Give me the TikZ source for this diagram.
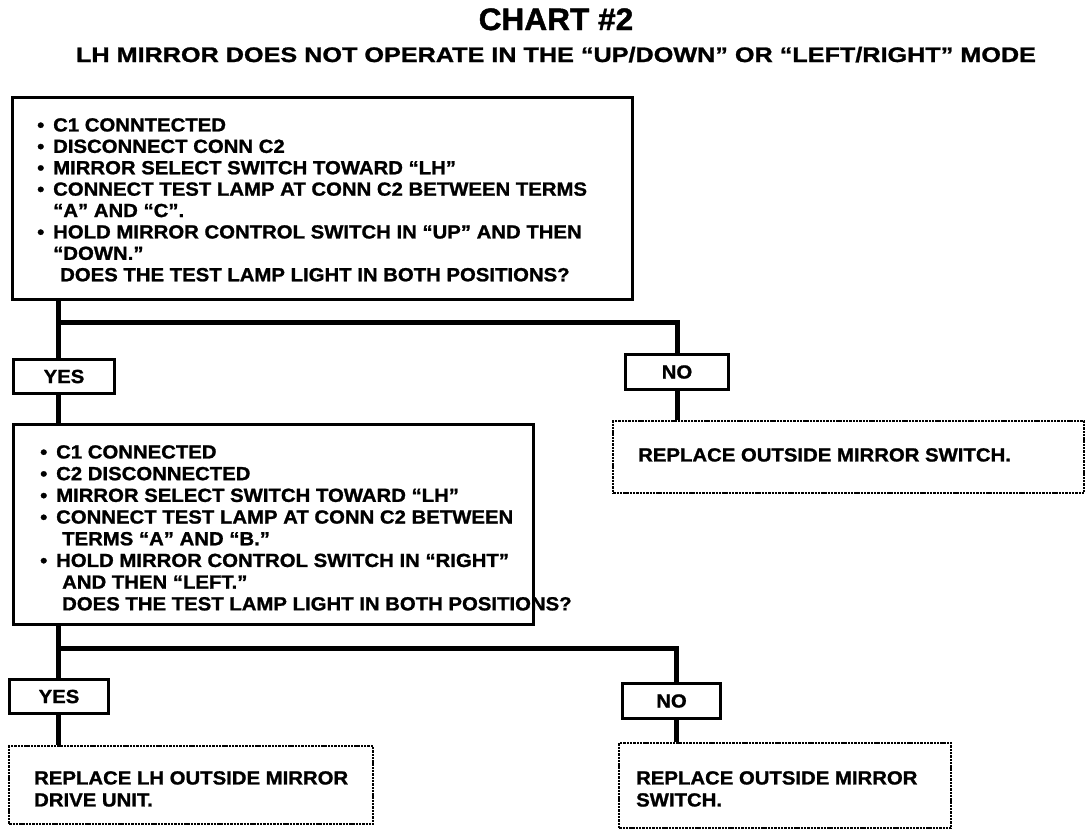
\documentclass[tikz,border=0pt]{standalone}
\usepackage{fontspec}
\setmainfont{Liberation Sans}[FakeStretch=1.07, BoldFeatures={FakeBold=1.2}]
\newfontfamily\titlef{Liberation Sans}[FakeStretch=1.02, BoldFeatures={FakeBold=1.5}]
\newfontfamily\subf{Liberation Sans}[FakeStretch=1.2, BoldFeatures={FakeBold=1.2}]
\newcommand\bul{\makebox[16pt][l]{•}}
\newcommand\ind[1]{\hspace*{#1}}
\begin{document}
\begin{tikzpicture}[x=1pt,y=-1pt,
  mainbox/.style={draw=black, line width=3pt, anchor=north west, inner sep=0pt},
  ynbox/.style={draw=black, line width=3pt, anchor=north west, inner sep=0pt,
     font=\fontsize{19}{21.4}\selectfont\bfseries},
  repbox/.style={draw=black, line width=2.4pt, dash pattern=on 2.4pt off 0.9pt, anchor=north west, inner sep=0pt},
  txt/.style={anchor=north west, inner sep=0pt, align=left,
     font=\fontsize{19}{21.4}\selectfont\bfseries},
  conn/.style={draw=black, line width=5pt}]
\useasboundingbox (0,0) rectangle (1088,836);

% titles
\node[anchor=base, inner sep=0pt, font=\titlef\fontsize{31}{33}\selectfont\bfseries] (title) at (556,30) {CHART \#2};
\node[anchor=base, inner sep=0pt, font=\subf\fontsize{21}{24}\selectfont\bfseries] (sub) at (556,62) {LH MIRROR DOES NOT OPERATE IN THE “UP/DOWN” OR “LEFT/RIGHT” MODE};

% first question box
\node[mainbox, minimum width=620pt, minimum height=202pt] (top) at (11,96) {};
\node[txt] (toptxt) at (37,118) {\bul C1 CONNTECTED\\
\bul DISCONNECT CONN C2\\
\bul MIRROR SELECT SWITCH TOWARD “LH”\\
\bul CONNECT TEST LAMP AT CONN C2 BETWEEN TERMS\\
\ind{16pt}“A” AND “C”.\\
\bul HOLD MIRROR CONTROL SWITCH IN “UP” AND THEN\\
\ind{16pt}“DOWN.”\\
\ind{23pt}DOES THE TEST LAMP LIGHT IN BOTH POSITIONS?};

\node[ynbox, minimum width=101pt, minimum height=34pt] (yes1) at (12,358) {YES};
\node[ynbox, minimum width=103pt, minimum height=35pt] (no1) at (624,353) {NO};

\node[repbox, minimum width=471pt, minimum height=72pt] (rep1) at (612,420) {};
\node[txt] (rep1txt) at (638,448) {REPLACE OUTSIDE MIRROR SWITCH.};

% second question box
\node[mainbox, minimum width=520pt, minimum height=200pt] (box2) at (12,423) {};
\node[txt, font=\fontsize{19}{21.7}\selectfont\bfseries] (box2txt) at (40,445) {\bul C1 CONNECTED\\
\bul C2 DISCONNECTED\\
\bul MIRROR SELECT SWITCH TOWARD “LH”\\
\bul CONNECT TEST LAMP AT CONN C2 BETWEEN\\
\ind{22pt}TERMS “A” AND “B.”\\
\bul HOLD MIRROR CONTROL SWITCH IN “RIGHT”\\
\ind{22pt}AND THEN “LEFT.”\\
\ind{22pt}DOES THE TEST LAMP LIGHT IN BOTH POSITIONS?};

\node[ynbox, minimum width=99pt, minimum height=34pt] (yes2) at (8,678) {YES};
\node[ynbox, minimum width=98pt, minimum height=35pt] (no2) at (621,682) {NO};

\node[repbox, minimum width=364pt, minimum height=78pt] (rep2) at (8,745) {};
\node[txt, font=\fontsize{19}{22}\selectfont\bfseries] (rep2txt) at (34,771) {REPLACE LH OUTSIDE MIRROR\\DRIVE UNIT.};
\node[repbox, minimum width=332pt, minimum height=85pt] (rep3) at (618,742) {};
\node[txt, font=\fontsize{19}{22}\selectfont\bfseries] (rep3txt) at (636,771) {REPLACE OUTSIDE MIRROR\\SWITCH.};

% connectors
\coordinate (j1) at (58,322);
\coordinate (k1) at (677,322);
\draw[conn] (top.south -| j1) -- (yes1.north -| j1);
\draw[conn] (j1) -- (k1) -- (no1.north -| k1);
\draw[conn] (yes1.south -| j1) -- (box2.north -| j1);
\draw[conn] (no1.south -| k1) -- (rep1.north -| k1);

\coordinate (j2) at (58,648);
\coordinate (k2) at (676,648);
\draw[conn] (box2.south -| j2) -- (yes2.north -| j2);
\draw[conn] (j2) -- (k2) -- (no2.north -| k2);
\draw[conn] (yes2.south -| j2) -- (rep2.north -| j2);
\draw[conn] (no2.south -| k2) -- (rep3.north -| k2);
\end{tikzpicture}
\end{document}
